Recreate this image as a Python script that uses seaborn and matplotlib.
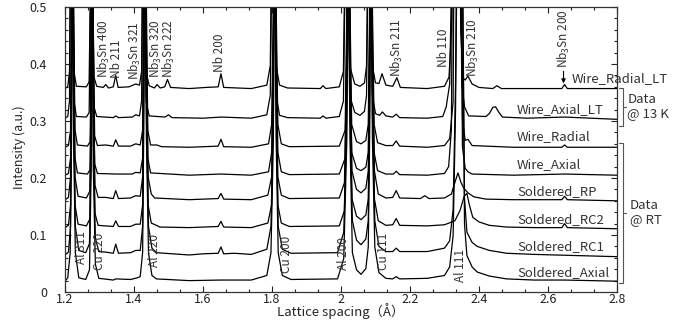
import numpy as np
import pandas as pd
import seaborn as sns
import matplotlib
matplotlib.use("Agg")
import matplotlib.pyplot as plt
from matplotlib.ticker import MultipleLocator, FormatStrFormatter

sns.set_theme(style="ticks")
plt.rcParams["font.family"] = ["Noto Sans CJK JP", "DejaVu Sans"]
plt.rcParams["mathtext.default"] = "regular"
plt.rcParams["xtick.direction"] = "in"
plt.rcParams["ytick.direction"] = "in"

# sample names, top to bottom, and their vertical offsets
names = ["Wire_Radial_LT", "Wire_Axial_LT", "Wire_Radial", "Wire_Axial",
         "Soldered_RP", "Soldered_RC2", "Soldered_RC1", "Soldered_Axial"]
offsets = [0.357, 0.305, 0.254, 0.205, 0.162, 0.113, 0.065, 0.019]

# (lattice spacing, intensity above the curve's own baseline)
wire_radial_lt = [
    (1.200, 0.000), (1.208, 0.003), (1.213, 0.03), (1.216, 0.25), (1.219, 0.7), (1.222, 0.25), (1.226, 0.03), (1.233, 0.004),
    (1.262, 0.003), (1.270, 0.012), (1.274, 0.2), (1.277, 0.7), (1.280, 0.2), (1.284, 0.02), (1.292, 0.004),
    (1.311, 0.002), (1.318, 0.007), (1.326, 0.001), (1.340, 0.003), (1.347, 0.023), (1.354, 0.002),
    (1.385, 0.003), (1.405, 0.008), (1.416, 0.006), (1.422, 0.03), (1.425, 0.25), (1.428, 0.7), (1.431, 0.25), (1.435, 0.03), (1.444, 0.005),
    (1.459, 0.001), (1.467, 0.007), (1.476, 0.001), (1.489, 0.003), (1.497, 0.016), (1.506, 0.002),
    (1.560, 0.000), (1.610, 0.002), (1.644, 0.003), (1.652, 0.026), (1.660, 0.002),
    (1.740, 0.000), (1.785, 0.006), (1.795, 0.04), (1.799, 0.25), (1.803, 0.7), (1.807, 0.25), (1.812, 0.04), (1.822, 0.006), (1.845, 0.001),
    (1.940, 0.000), (1.948, 0.005), (1.956, 0.000),
    (1.995, 0.003), (2.007, 0.03), (2.012, 0.25), (2.016, 0.7), (2.020, 0.25), (2.025, 0.04), (2.040, 0.008), (2.055, 0.004),
    (2.068, 0.01), (2.074, 0.04), (2.078, 0.25), (2.082, 0.7), (2.086, 0.25), (2.091, 0.04), (2.100, 0.01),
    (2.110, 0.009), (2.119, 0.026), (2.130, 0.006), (2.150, 0.004), (2.162, 0.019), (2.172, 0.002),
    (2.250, 0.000), (2.300, 0.004), (2.313, 0.02), (2.320, 0.1), (2.326, 0.7), (2.340, 0.7), (2.347, 0.1), (2.354, 0.018),
    (2.360, 0.015), (2.368, 0.022), (2.380, 0.008), (2.400, 0.002),
    (2.440, 0.000), (2.452, 0.005), (2.465, 0.000), (2.600, 0.000), (2.640, 0.000), (2.648, 0.007), (2.656, 0.000), (2.800, 0.000),
]

wire_axial_lt = [
    (1.200, 0.000), (1.208, 0.003), (1.213, 0.03), (1.216, 0.25), (1.219, 0.7), (1.222, 0.25), (1.226, 0.03), (1.233, 0.003),
    (1.262, 0.002), (1.270, 0.01), (1.274, 0.2), (1.277, 0.7), (1.280, 0.2), (1.284, 0.02), (1.292, 0.003),
    (1.340, 0.001), (1.347, 0.004), (1.355, 0.001), (1.395, 0.002), (1.405, 0.006), (1.416, 0.004),
    (1.422, 0.03), (1.425, 0.25), (1.428, 0.7), (1.431, 0.25), (1.435, 0.03), (1.444, 0.004),
    (1.490, 0.002), (1.500, 0.006), (1.510, 0.001), (1.600, 0.000), (1.652, 0.002), (1.740, 0.000),
    (1.785, 0.006), (1.795, 0.04), (1.799, 0.25), (1.803, 0.7), (1.807, 0.25), (1.812, 0.04), (1.822, 0.005), (1.845, 0.001),
    (1.940, 0.000), (1.948, 0.004), (1.956, 0.000),
    (1.995, 0.003), (2.007, 0.03), (2.012, 0.25), (2.016, 0.7), (2.020, 0.25), (2.025, 0.04), (2.040, 0.01), (2.055, 0.005),
    (2.068, 0.012), (2.074, 0.04), (2.078, 0.25), (2.082, 0.7), (2.086, 0.25), (2.091, 0.04), (2.100, 0.008),
    (2.112, 0.005), (2.120, 0.011), (2.130, 0.004), (2.150, 0.002), (2.160, 0.007), (2.170, 0.001),
    (2.250, 0.000), (2.295, 0.003), (2.305, 0.02), (2.315, 0.06), (2.322, 0.3), (2.328, 0.7), (2.342, 0.7), (2.350, 0.06),
    (2.358, 0.02), (2.370, 0.004), (2.420, 0.003),
    (2.430, 0.008), (2.440, 0.019), (2.448, 0.02), (2.458, 0.01), (2.468, 0.002), (2.540, 0.000), (2.648, 0.002), (2.800, -0.002),
]

wire_radial = [
    (1.200, 0.000), (1.210, 0.003), (1.216, 0.03), (1.219, 0.25), (1.222, 0.7), (1.225, 0.25), (1.229, 0.03), (1.236, 0.004),
    (1.265, 0.002), (1.273, 0.01), (1.276, 0.2), (1.279, 0.7), (1.282, 0.2), (1.286, 0.02), (1.294, 0.003),
    (1.318, 0.004), (1.340, 0.002), (1.347, 0.013), (1.355, 0.002), (1.390, 0.002), (1.405, 0.006), (1.418, 0.004),
    (1.425, 0.03), (1.428, 0.25), (1.432, 0.7), (1.436, 0.25), (1.440, 0.03), (1.448, 0.004),
    (1.466, 0.004), (1.480, 0.001), (1.560, 0.000), (1.644, 0.002), (1.652, 0.014), (1.660, 0.001),
    (1.740, 0.000), (1.790, 0.006), (1.799, 0.04), (1.804, 0.25), (1.808, 0.7), (1.812, 0.25), (1.817, 0.04), (1.827, 0.006), (1.850, 0.001),
    (1.995, 0.002), (2.012, 0.03), (2.017, 0.25), (2.022, 0.7), (2.026, 0.25), (2.031, 0.04), (2.045, 0.01), (2.058, 0.006),
    (2.072, 0.012), (2.079, 0.04), (2.083, 0.25), (2.087, 0.7), (2.091, 0.25), (2.096, 0.04), (2.106, 0.008),
    (2.130, 0.003), (2.150, 0.003), (2.160, 0.011), (2.170, 0.002),
    (2.250, 0.000), (2.300, 0.003), (2.315, 0.015), (2.325, 0.08), (2.331, 0.7), (2.345, 0.7), (2.352, 0.05), (2.360, 0.012),
    (2.368, 0.014), (2.380, 0.003),
    (2.500, 0.000), (2.640, 0.000), (2.648, 0.004), (2.656, 0.000), (2.800, 0.000),
]

wire_axial = [
    (1.200, 0.000), (1.210, 0.003), (1.216, 0.03), (1.219, 0.25), (1.222, 0.7), (1.225, 0.25), (1.229, 0.03), (1.236, 0.004),
    (1.265, 0.002), (1.273, 0.01), (1.276, 0.2), (1.279, 0.7), (1.282, 0.2), (1.286, 0.02), (1.294, 0.003),
    (1.347, 0.002), (1.395, 0.002), (1.405, 0.005), (1.418, 0.004),
    (1.425, 0.03), (1.428, 0.25), (1.432, 0.7), (1.436, 0.25), (1.440, 0.03), (1.448, 0.004),
    (1.560, 0.000), (1.652, 0.002), (1.740, 0.000),
    (1.790, 0.006), (1.799, 0.04), (1.804, 0.25), (1.808, 0.7), (1.812, 0.25), (1.817, 0.04), (1.827, 0.006), (1.850, 0.001),
    (1.995, 0.002), (2.012, 0.03), (2.017, 0.25), (2.022, 0.7), (2.026, 0.25), (2.031, 0.04), (2.045, 0.012), (2.058, 0.008),
    (2.072, 0.014), (2.079, 0.04), (2.083, 0.25), (2.087, 0.7), (2.091, 0.25), (2.096, 0.04), (2.106, 0.008),
    (2.130, 0.002), (2.152, 0.002), (2.160, 0.007), (2.170, 0.001),
    (2.250, 0.000), (2.300, 0.003), (2.312, 0.015), (2.320, 0.08), (2.326, 0.7), (2.345, 0.7), (2.352, 0.05), (2.360, 0.012),
    (2.368, 0.006), (2.380, 0.002),
    (2.500, 0.000), (2.648, 0.002), (2.800, 0.000),
]

soldered_rp = [
    (1.200, 0.000), (1.210, 0.004), (1.216, 0.04), (1.219, 0.25), (1.222, 0.7), (1.225, 0.25), (1.229, 0.04), (1.238, 0.006),
    (1.262, 0.003), (1.272, 0.015), (1.276, 0.2), (1.279, 0.7), (1.282, 0.2), (1.287, 0.025), (1.296, 0.004),
    (1.318, 0.004), (1.340, 0.002), (1.347, 0.016), (1.355, 0.002), (1.390, 0.003), (1.405, 0.007), (1.418, 0.006),
    (1.425, 0.04), (1.428, 0.25), (1.432, 0.7), (1.436, 0.25), (1.441, 0.04), (1.450, 0.01), (1.460, 0.003),
    (1.560, 0.000), (1.644, 0.002), (1.652, 0.011), (1.660, 0.001),
    (1.740, 0.000), (1.788, 0.008), (1.799, 0.04), (1.804, 0.25), (1.808, 0.7), (1.812, 0.25), (1.817, 0.04), (1.827, 0.008), (1.850, 0.002),
    (1.995, 0.003), (2.010, 0.03), (2.017, 0.25), (2.022, 0.7), (2.026, 0.25), (2.032, 0.05), (2.045, 0.018), (2.058, 0.012),
    (2.072, 0.02), (2.079, 0.05), (2.083, 0.25), (2.087, 0.7), (2.091, 0.25), (2.097, 0.05), (2.108, 0.01),
    (2.130, 0.003), (2.150, 0.004), (2.160, 0.016), (2.170, 0.003), (2.230, 0.002), (2.243, 0.007), (2.255, 0.002),
    (2.300, 0.003), (2.320, 0.01), (2.330, 0.03), (2.339, 0.047), (2.348, 0.03), (2.356, 0.02), (2.368, 0.012), (2.385, 0.005), (2.420, 0.001),
    (2.500, 0.000), (2.640, 0.000), (2.648, 0.006), (2.656, 0.000), (2.800, -0.002),
]

soldered_rc2 = [
    (1.200, 0.000), (1.210, 0.004), (1.216, 0.04), (1.219, 0.25), (1.222, 0.7), (1.225, 0.25), (1.229, 0.04), (1.238, 0.006),
    (1.262, 0.003), (1.272, 0.015), (1.276, 0.2), (1.279, 0.7), (1.282, 0.2), (1.287, 0.025), (1.296, 0.004),
    (1.340, 0.002), (1.347, 0.012), (1.355, 0.002), (1.390, 0.002), (1.405, 0.006), (1.418, 0.006),
    (1.425, 0.04), (1.428, 0.25), (1.432, 0.7), (1.436, 0.25), (1.441, 0.04), (1.450, 0.008), (1.465, 0.004), (1.475, 0.001),
    (1.560, 0.000), (1.644, 0.002), (1.652, 0.011), (1.660, 0.001),
    (1.740, 0.000), (1.788, 0.008), (1.799, 0.04), (1.804, 0.25), (1.808, 0.7), (1.812, 0.25), (1.817, 0.04), (1.827, 0.008), (1.850, 0.002),
    (1.995, 0.003), (2.010, 0.03), (2.017, 0.25), (2.022, 0.7), (2.026, 0.25), (2.032, 0.05), (2.045, 0.02), (2.058, 0.014),
    (2.072, 0.022), (2.079, 0.05), (2.083, 0.25), (2.087, 0.7), (2.091, 0.25), (2.097, 0.05), (2.108, 0.012),
    (2.130, 0.004), (2.150, 0.005), (2.160, 0.016), (2.170, 0.004), (2.250, 0.003),
    (2.300, 0.005), (2.330, 0.012), (2.345, 0.03), (2.357, 0.055), (2.365, 0.06), (2.372, 0.04), (2.382, 0.018), (2.400, 0.01),
    (2.430, 0.004), (2.480, 0.001),
    (2.560, 0.000), (2.640, 0.000), (2.648, 0.007), (2.656, 0.000), (2.800, -0.002),
]

soldered_rc1 = [
    (1.200, 0.000), (1.210, 0.005), (1.216, 0.05), (1.219, 0.25), (1.222, 0.7), (1.225, 0.25), (1.230, 0.05), (1.240, 0.008),
    (1.260, 0.004), (1.271, 0.02), (1.276, 0.2), (1.279, 0.7), (1.282, 0.2), (1.288, 0.03), (1.298, 0.006),
    (1.318, 0.005), (1.340, 0.003), (1.347, 0.019), (1.355, 0.003), (1.390, 0.004), (1.405, 0.008), (1.418, 0.008),
    (1.425, 0.05), (1.428, 0.25), (1.432, 0.7), (1.436, 0.25), (1.442, 0.05), (1.452, 0.012), (1.465, 0.004),
    (1.560, 0.000), (1.600, 0.002), (1.644, 0.003), (1.652, 0.014), (1.660, 0.002), (1.690, 0.003),
    (1.740, 0.001), (1.785, 0.01), (1.797, 0.05), (1.804, 0.25), (1.808, 0.7), (1.812, 0.25), (1.818, 0.05), (1.830, 0.01), (1.855, 0.003),
    (1.990, 0.004), (2.008, 0.04), (2.017, 0.25), (2.022, 0.7), (2.026, 0.25), (2.033, 0.06), (2.045, 0.026), (2.058, 0.018),
    (2.072, 0.028), (2.079, 0.06), (2.083, 0.25), (2.087, 0.7), (2.091, 0.25), (2.098, 0.06), (2.110, 0.015),
    (2.130, 0.006), (2.150, 0.006), (2.160, 0.012), (2.170, 0.006), (2.250, 0.006), (2.300, 0.012), (2.315, 0.025),
    (2.325, 0.08), (2.332, 0.3), (2.338, 0.7), (2.350, 0.7), (2.358, 0.1), (2.365, 0.04), (2.380, 0.022), (2.395, 0.015),
    (2.430, 0.008), (2.480, 0.003),
    (2.560, 0.001), (2.800, -0.003),
]

soldered_axial = [
    (1.200, 0.000), (1.208, 0.006), (1.215, 0.05), (1.219, 0.25), (1.222, 0.7), (1.225, 0.25), (1.230, 0.05), (1.240, 0.006),
    (1.260, 0.003), (1.271, 0.02), (1.276, 0.2), (1.279, 0.7), (1.282, 0.2), (1.288, 0.03), (1.298, 0.005),
    (1.340, 0.002), (1.347, 0.004), (1.390, 0.003), (1.410, 0.006), (1.418, 0.008),
    (1.425, 0.05), (1.428, 0.25), (1.432, 0.7), (1.436, 0.25), (1.442, 0.05), (1.452, 0.01), (1.465, 0.004),
    (1.560, 0.001), (1.652, 0.002), (1.740, 0.002),
    (1.785, 0.01), (1.797, 0.05), (1.804, 0.25), (1.808, 0.7), (1.812, 0.25), (1.818, 0.05), (1.830, 0.01), (1.855, 0.003),
    (1.990, 0.004), (2.008, 0.04), (2.017, 0.25), (2.022, 0.7), (2.026, 0.25), (2.033, 0.05), (2.045, 0.02), (2.058, 0.012),
    (2.072, 0.022), (2.079, 0.06), (2.083, 0.25), (2.087, 0.7), (2.091, 0.25), (2.098, 0.06), (2.110, 0.015),
    (2.130, 0.005), (2.150, 0.004), (2.160, 0.008), (2.170, 0.004), (2.250, 0.005), (2.300, 0.01), (2.315, 0.025),
    (2.325, 0.08), (2.332, 0.3), (2.338, 0.7), (2.350, 0.7), (2.358, 0.1), (2.365, 0.045), (2.380, 0.025), (2.395, 0.016),
    (2.430, 0.009), (2.480, 0.004),
    (2.560, 0.002), (2.648, 0.002), (2.800, 0.000),
]

curves = [wire_radial_lt, wire_axial_lt, wire_radial, wire_axial,
          soldered_rp, soldered_rc2, soldered_rc1, soldered_axial]

# curve name labels: (x of left edge, y centre)
name_pos = [(2.670, 0.374), (2.510, 0.320), (2.510, 0.272), (2.510, 0.224),
            (2.510, 0.176), (2.510, 0.127), (2.510, 0.079), (2.510, 0.034)]

# peak labels above the curves: text, x, y of bottom end
top_labels = [("Nb$_3$Sn 400", 1.312, 0.375), ("Nb 211", 1.350, 0.375),
              ("Nb$_3$Sn 321", 1.403, 0.372), ("Nb$_3$Sn 320", 1.463, 0.375),
              ("Nb$_3$Sn 222", 1.501, 0.375), ("Nb 200", 1.649, 0.386),
              ("Nb$_3$Sn 211", 2.162, 0.377), ("Nb 110", 2.296, 0.395),
              ("Nb$_3$Sn 210", 2.383, 0.377)]

# matrix peak labels near the bottom
bottom_labels = [("Al 311", 1.249, 0.050), ("Cu 220", 1.300, 0.038),
                 ("Al 220", 1.460, 0.044), ("Cu 200", 1.843, 0.033),
                 ("Al 200", 2.006, 0.039), ("Cu 111", 2.122, 0.039),
                 ("Al 111", 2.345, 0.018)]

frames = []
for name, off, pts in zip(names, offsets, curves):
    df = pd.DataFrame(pts, columns=["d", "intensity"])
    df["intensity"] = df["intensity"] + off
    df["sample"] = name
    frames.append(df)
data = pd.concat(frames, ignore_index=True)

fig = plt.figure(figsize=(6.9, 3.21), dpi=100)
ax = fig.add_axes([0.0942, 0.0903, 0.8, 0.8877])

sns.lineplot(data=data, x="d", y="intensity", hue="sample", units="sample",
             estimator=None, sort=False, palette=["black"] * len(names),
             linewidth=0.9, legend=False, ax=ax)

ax.set_xlim(1.2, 2.8)
ax.set_ylim(0, 0.5)
ax.xaxis.set_major_locator(MultipleLocator(0.2))
ax.xaxis.set_minor_locator(MultipleLocator(0.2 / 3))
ax.yaxis.set_major_locator(MultipleLocator(0.1))
ax.yaxis.set_minor_locator(MultipleLocator(0.02))
ax.xaxis.set_major_formatter(FormatStrFormatter("%g"))
ax.yaxis.set_major_formatter(FormatStrFormatter("%g"))
ax.tick_params(which="both", top=True, right=True, direction="in",
               labelsize=9, colors="#222222", width=0.8)
ax.tick_params(which="major", length=4)
ax.tick_params(axis="x", which="major", pad=0.5)
ax.tick_params(axis="y", which="major", pad=13)
ax.tick_params(which="minor", length=2.5)
for s in ax.spines.values():
    s.set_linewidth(0.9)
    s.set_color("#333333")

ax.set_xlabel("Lattice spacing（Å）", fontsize=9.5, va="center")
ax.xaxis.set_label_coords(0.5, -0.068)
ax.set_ylabel("Intensity (a.u.)", fontsize=9, va="center")
ax.yaxis.set_label_coords(-0.082, 0.51)

tc = "#333333"
for txt, x, y in top_labels:
    ax.text(x, y, txt, rotation=90, ha="center", va="bottom", fontsize=8.5, color=tc)
for txt, x, y in bottom_labels:
    ax.text(x, y, txt, rotation=90, ha="center", va="bottom", fontsize=8.5, color=tc)

ax.annotate("Nb$_3$Sn 200", xy=(2.645, 0.366), xytext=(2.645, 0.393),
            rotation=90, ha="center", va="bottom", fontsize=8.5, color=tc,
            arrowprops=dict(arrowstyle="-|>", color="black", lw=0.8,
                            mutation_scale=6, shrinkA=0, shrinkB=0))

for name, (x, y) in zip(names, name_pos):
    ax.text(x, y, name, ha="left", va="center", fontsize=9.5, color=tc, clip_on=False)

# brackets grouping the measurement temperature
bc = "#555555"
ax.plot([2.806, 2.817, 2.817, 2.806], [0.358, 0.358, 0.291, 0.291], color=bc, lw=0.8, clip_on=False)
ax.plot([2.817, 2.826], [0.325, 0.325], color=bc, lw=0.8, clip_on=False)
ax.text(2.830, 0.326, "Data\n@ 13 K", ha="left", va="center", fontsize=9.5,
        color=tc, linespacing=1.1, clip_on=False)
ax.plot([2.806, 2.817, 2.817, 2.806], [0.261, 0.261, 0.016, 0.016], color=bc, lw=0.8, clip_on=False)
ax.plot([2.817, 2.826], [0.139, 0.139], color=bc, lw=0.8, clip_on=False)
ax.text(2.838, 0.140, "Data\n@ RT", ha="left", va="center", fontsize=9.5,
        color=tc, linespacing=1.1, clip_on=False)

fig.savefig("out.png", dpi=100)
